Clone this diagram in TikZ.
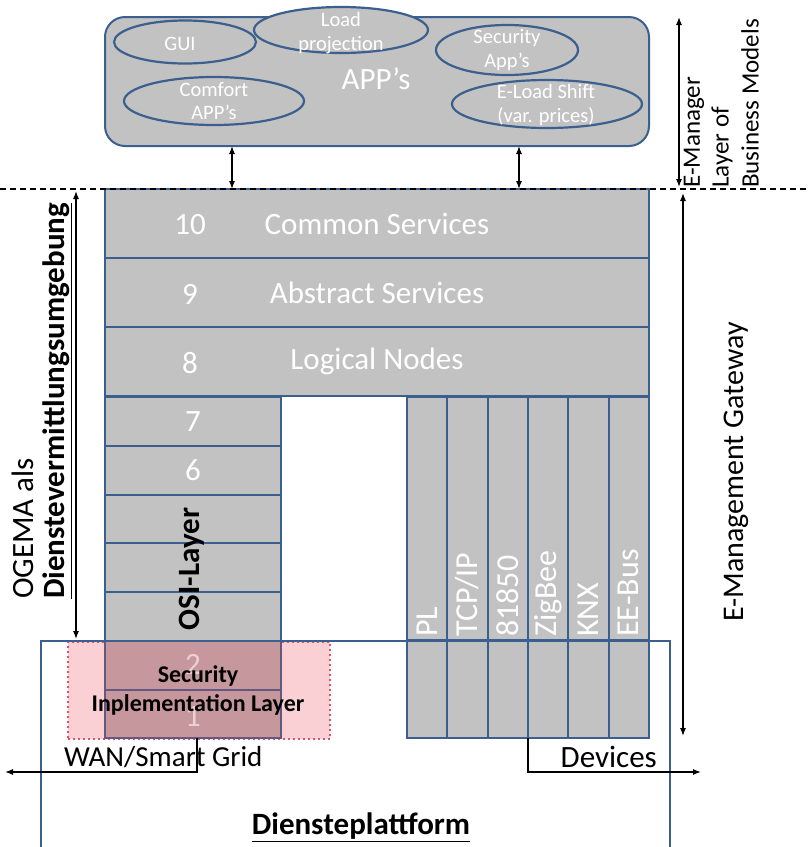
\documentclass[tikz,border=0pt]{standalone}
\usepackage{fontspec}
\setmainfont{Carlito}
\usetikzlibrary{arrows.meta,shapes.geometric}

\definecolor{layergray}{RGB}{194,194,194}
\definecolor{edgeblue}{RGB}{59,95,142}
\definecolor{secpink}{RGB}{250,208,212}
\definecolor{secred}{RGB}{226,80,105}
\definecolor{secinner}{RGB}{198,152,157}
\definecolor{secedge}{RGB}{100,88,128}
\definecolor{secnum}{RGB}{236,208,212}

\begin{document}
\begin{tikzpicture}[x=1pt,y=-1pt,
  box/.style={draw=edgeblue, line width=2pt, fill=layergray, inner sep=0pt, outer sep=0pt, anchor=north west},
  app/.style={ellipse, draw=edgeblue, line width=2.2pt, fill=layergray, inner sep=0pt},
  wtxt/.style={text=white, font=\fontsize{31}{36}\selectfont, inner sep=0pt},
  stxt/.style={text=white, font=\fontsize{20.5}{23.5}\selectfont, align=center, inner sep=0pt},
  ctxt/.style={text=white, font=\fontsize{32}{36}\selectfont, inner sep=0pt, rotate=90, anchor=west},
  btxt/.style={text=black, font=\fontsize{31}{36}\selectfont, inner sep=0pt},
  dim/.style={{Latex[length=8pt,width=6pt]}-{Latex[length=8pt,width=6pt]}, line width=1.2pt},
  onearrow/.style={-{Latex[length=8pt,width=6pt]}, line width=1.2pt},
  ]
\useasboundingbox (0,0) rectangle (807,847);

% ---------- application layer ----------
\node[box, rounded corners=20pt, minimum width=544pt, minimum height=129pt] (apps) at (105,17) {};
\node[app, minimum width=142pt, minimum height=43pt] (gui) at (185,42) {};
\node[app, minimum width=174pt, minimum height=46pt] (load) at (341,30) {};
\node[app, minimum width=142pt, minimum height=50pt] (secapp) at (507,50) {};
\node[app, minimum width=180pt, minimum height=48pt] (comfort) at (214,101) {};
\node[app, minimum width=190pt, minimum height=48pt] (shift) at (547,104) {};
\node[stxt] (guit) at (180,44) {GUI};
\node[stxt] (loadt) at (341,33) {Load\\projection};
\node[stxt] (secappt) at (507,50) {Security\\App’s};
\node[stxt] (comfortt) at (214,101) {Comfort\\APP’s};
\node[stxt] (shiftt) at (546,105) {E-Load Shift\\(var. prices)};
\node[wtxt] (appst) at (376,79) {APP’s};

% ---------- service layers ----------
\node[box, minimum width=544pt, minimum height=69pt, text=white, font=\fontsize{31}{36}\selectfont] (l10) at (105,189) {Common Services};
\node[box, minimum width=544pt, minimum height=69pt, text=white, font=\fontsize{31}{36}\selectfont] (l9) at (105,258) {Abstract Services};
\node[box, minimum width=544pt, minimum height=69pt, text=white, font=\fontsize{31}{36}\selectfont] (l8) at (105,327) {Logical Nodes};
\node[wtxt] (n10) at (190,225) {10};
\node[wtxt] (n9) at (190,294) {9};
\node[wtxt] (n8) at (190,363) {8};

% ---------- OSI stack ----------
\node[fill=secpink, draw=secred, line width=1.8pt, dash pattern=on 1.8pt off 3.2pt,
      inner sep=0pt, anchor=north west, minimum width=262pt, minimum height=97pt] (secarea) at (67,641) {};
\node[box, minimum width=176pt, minimum height=48.8pt, text=white, font=\fontsize{31}{36}\selectfont] (osi7) at (105,397) {7};
\node[box, minimum width=176pt, minimum height=48.8pt, text=white, font=\fontsize{31}{36}\selectfont] (osi6) at (105,445.8) {6};
\node[box, minimum width=176pt, minimum height=48.8pt] (osi5) at (105,494.6) {};
\node[box, minimum width=176pt, minimum height=48.8pt] (osi4) at (105,543.4) {};
\node[box, minimum width=176pt, minimum height=48.8pt] (osi3) at (105,592.2) {};
\node[box, draw=secedge, fill=secinner, minimum width=176pt, minimum height=48.5pt] (osi2) at (105,641) {};
\node[box, draw=secedge, fill=secinner, minimum width=176pt, minimum height=48.5pt] (osi1) at (105,689.5) {};
\node[text=secnum, font=\fontsize{31}{36}\selectfont, inner sep=0pt] (n2) at (193,664) {2};
\node[text=secnum, font=\fontsize{31}{36}\selectfont, inner sep=0pt] (n1) at (193,717) {1};
\node[btxt, font=\bfseries\fontsize{31}{36}\selectfont, rotate=90] (osit) at (192,569) {OSI-Layer};
\node[align=center, font=\bfseries\fontsize{24}{29}\selectfont, inner sep=0pt] (sect) at (198,690) {Security\\Inplementation Layer};

% ---------- communication technologies ----------
\foreach \lab [count=\i from 0] in {PL,TCP/IP,81850,ZigBee,KNX,EE-Bus} {
  \node[box, minimum width=40.33pt, minimum height=243pt] (pu\i) at ({407+\i*40.33},397) {};
  \node[box, minimum width=40.33pt, minimum height=98pt] (pd\i) at ({407+\i*40.33},640) {};
  \node[ctxt] (pt\i) at ([yshift=3pt]pu\i.south) {\lab};
}

% ---------- service platform ----------
\node[draw=edgeblue, line width=2pt, inner sep=0pt, anchor=north west, minimum width=629pt, minimum height=260pt] (platform) at (40,640) {};
\node[btxt, font=\bfseries\fontsize{31}{36}\selectfont] (dpt) at (361,827) {\underline{Diensteplattform}};

% ---------- external interfaces ----------
\coordinate (wanx) at (197,0);
\coordinate (wanend) at (5,772);
\coordinate (devend) at (701,772);
\draw[onearrow] (osi1.south -| wanx) |- (wanend);
\draw[onearrow] (pd3.south west) |- (devend);
\node[btxt, font=\fontsize{29}{34}\selectfont, anchor=west] (want) at (64,757) {WAN/Smart Grid};
\node[btxt, anchor=east] (devt) at (657,757) {Devices};

% ---------- connectors between apps and services ----------
\coordinate (ax1) at (232,0);
\coordinate (ax2) at (519,0);
\draw[dim] (apps.south -| ax1) -- (l10.north -| ax1);
\draw[dim] (apps.south -| ax2) -- (l10.north -| ax2);

% ---------- boundary and extent markers ----------
\coordinate (dl) at (0,189);
\coordinate (dr) at (807,189);
\draw[line width=1.3pt, dash pattern=on 6pt off 4pt] (dl) -- (dr);

\coordinate (emtop) at (679,17);
\coordinate (embot) at (679,187);
\draw[dim] (emtop) -- (embot);
\coordinate (gwtop) at (683,193);
\coordinate (gwbot) at (683,736);
\draw[dim] (gwtop) -- (gwbot);
\coordinate (ogtop) at (76,191);
\coordinate (ogbot) at (76,639);
\draw[dim] (ogtop) -- (ogbot);

\node[font=\fontsize{25}{29}\selectfont, rotate=90, anchor=west, inner sep=0pt] (em1) at (694,188) {E-Manager};
\node[font=\fontsize{25}{29}\selectfont, rotate=90, anchor=west, inner sep=0pt] (em2) at (722,188) {Layer of};
\node[font=\fontsize{25}{29}\selectfont, rotate=90, anchor=west, inner sep=0pt] (em3) at (750,188) {Business Models};
\node[font=\fontsize{30}{34}\selectfont, rotate=90, inner sep=0pt] (gwt) at (736,472) {E-Management Gateway};
\node[font=\fontsize{31}{36}\selectfont, rotate=90, anchor=west, inner sep=0pt] (og1) at (23,599) {OGEMA als};
\node[font=\bfseries\fontsize{31}{36}\selectfont, rotate=90, anchor=west, inner sep=0pt] (og2) at (57,599) {\underline{Dienstevermittlungsumgebung}};
\end{tikzpicture}
\end{document}
